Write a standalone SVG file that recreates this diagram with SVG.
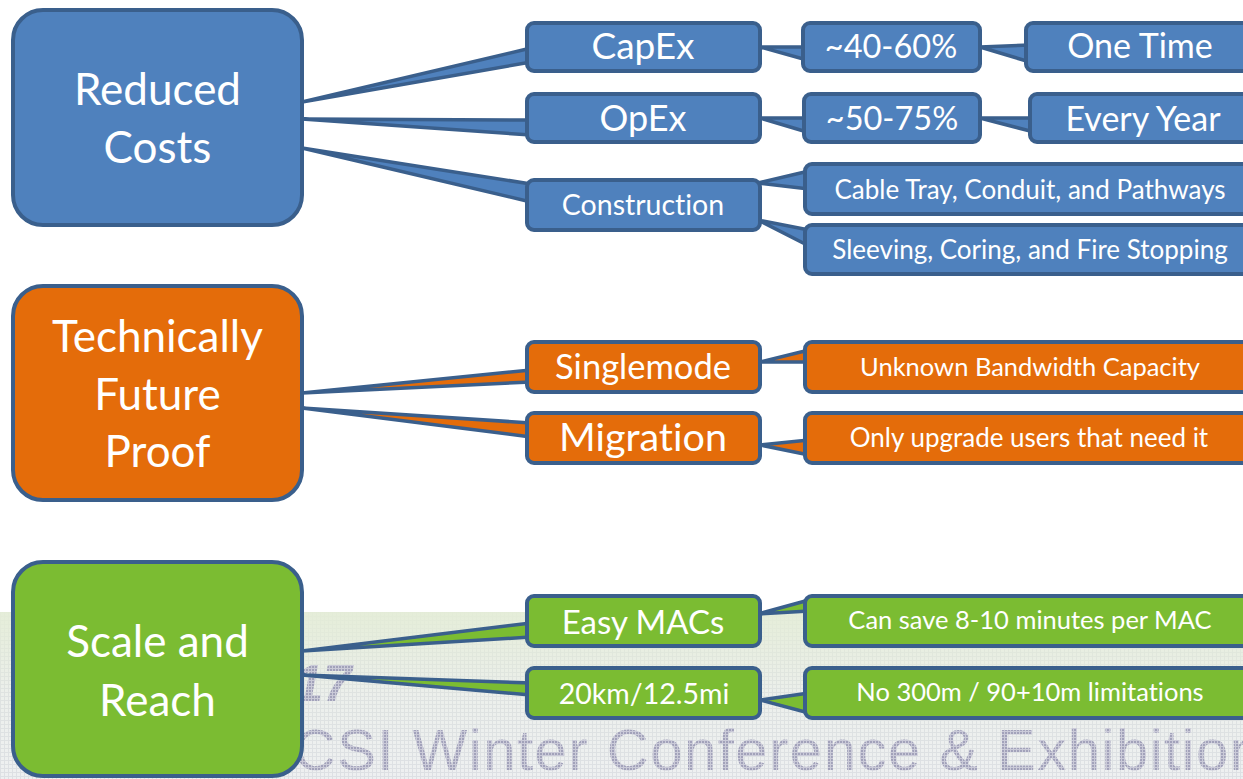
<svg xmlns="http://www.w3.org/2000/svg" width="1243" height="779" viewBox="0 0 1243 779">
<style>
.blue{fill:#4F81BD}
.orange{fill:#E46C0A}
.green{fill:#7BBC32}
.box{stroke:#3A5F8C;stroke-width:4}
.wedge{stroke:#3A5F8C;stroke-width:3.5;stroke-linejoin:round}
text{font-family:Lato,"Liberation Sans",sans-serif;fill:#FFFFFF;text-anchor:middle;font-variant-ligatures:none}
.wm{font-family:"Liberation Sans",Arial,sans-serif;fill:url(#dots);text-anchor:start}
</style>
<defs>
<pattern id="grid" width="4" height="4" patternUnits="userSpaceOnUse">
<rect width="4" height="4" fill="#EEF0F1"/>
<path d="M0 0.5H4M0.5 0V4" stroke="#DDE0E4" stroke-width="1"/>
</pattern>
<pattern id="dots" width="3" height="3" patternUnits="userSpaceOnUse">
<rect width="3" height="3" fill="#CACAD8"/>
<rect width="2" height="2" fill="#A2A2BA"/>
</pattern>
<linearGradient id="tint" x1="0" y1="0" x2="0" y2="1">
<stop offset="0" stop-color="#E4EDD6" stop-opacity="0.9"/>
<stop offset="0.5" stop-color="#E4EDD6" stop-opacity="0.2"/>
<stop offset="1" stop-color="#E4EDD6" stop-opacity="0"/>
</linearGradient>
</defs>
<rect width="1243" height="779" fill="#FFFFFF"/>
<g id="watermark">
<rect x="0" y="612" width="1243" height="167" fill="url(#grid)"/>
<rect x="0" y="612" width="1243" height="167" fill="url(#tint)"/>
<text class="wm" x="352" y="701" font-size="52" font-weight="bold" font-style="italic" style="text-anchor:end">2017</text>
<text class="wm" x="236" y="770" font-size="58" letter-spacing="1.5">BICSI Winter Conference &amp; Exhibition</text>
</g>
<g id="connectors">
<polygon class="wedge blue" points="302,102 531,48 531,62"/>
<polygon class="wedge blue" points="302,119 531,120 531,135"/>
<polygon class="wedge blue" points="302,148 531,184 531,202"/>
<polygon class="wedge blue" points="760,47 807,47 807,60"/>
<polygon class="wedge blue" points="980,47 1030,45 1030,62"/>
<polygon class="wedge blue" points="760,118 807,118 807,132"/>
<polygon class="wedge blue" points="980,118 1034,118 1034,132"/>
<polygon class="wedge blue" points="758,183 809,171 809,189"/>
<polygon class="wedge blue" points="758,220 809,230 809,246"/>
<polygon class="wedge orange" points="302,393 531,370 531,382"/>
<polygon class="wedge orange" points="302,408 531,423 531,437"/>
<polygon class="wedge orange" points="760,362 809,350 809,362"/>
<polygon class="wedge orange" points="760,445 809,440 809,455"/>
<polygon class="wedge green" points="302,651 531,623 531,637"/>
<polygon class="wedge green" points="302,675 531,683 531,695"/>
<polygon class="wedge green" points="758,614 809,600 809,611"/>
<polygon class="wedge green" points="760,700 809,693 809,713"/>
</g>
<g id="reduced-costs"><rect class="box blue" x="13" y="10" width="289" height="215" rx="30"/><text x="157.5" y="105" font-size="44">Reduced</text><text x="157.5" y="163" font-size="44">Costs</text></g>
<g id="technically-future-proof"><rect class="box orange" x="13" y="286" width="289" height="214" rx="30"/><text x="157.5" y="352" font-size="44">Technically</text><text x="157.5" y="410" font-size="44">Future</text><text x="157.5" y="467" font-size="44">Proof</text></g>
<g id="scale-and-reach"><rect class="box green" x="13" y="562" width="289" height="214" rx="30"/><text x="157.5" y="657" font-size="44">Scale and</text><text x="157.5" y="716" font-size="44">Reach</text></g>
<g id="capex"><rect class="box blue" x="527" y="23" width="233" height="48" rx="7"/><text x="643" y="59" font-size="37">CapEx</text></g>
<g id="opex"><rect class="box blue" x="527" y="94" width="233" height="48" rx="7"/><text x="643" y="131" font-size="36">OpEx</text></g>
<g id="construction"><rect class="box blue" x="527" y="180" width="233" height="50" rx="7"/><text x="643" y="215" font-size="28.5">Construction</text></g>
<g id="capex-pct"><rect class="box blue" x="803" y="23" width="177" height="48" rx="7"/><text x="891" y="58" font-size="32.5">~40-60%</text></g>
<g id="opex-pct"><rect class="box blue" x="804" y="94" width="176" height="48" rx="7"/><text x="892" y="130" font-size="32.5">~50-75%</text></g>
<g id="one-time"><rect class="box blue" x="1026" y="23" width="235" height="48" rx="7"/><text x="1140" y="58" font-size="34">One Time</text></g>
<g id="every-year"><rect class="box blue" x="1030" y="94" width="235" height="48" rx="7"/><text x="1143" y="131" font-size="34">Every Year</text></g>
<g id="cable-tray"><rect class="box blue" x="805" y="164" width="450" height="50" rx="7"/><text x="1030" y="199" font-size="26">Cable Tray, Conduit, and Pathways</text></g>
<g id="sleeving"><rect class="box blue" x="805" y="225" width="450" height="49" rx="7"/><text x="1030" y="259" font-size="26">Sleeving, Coring, and Fire Stopping</text></g>
<g id="singlemode"><rect class="box orange" x="527" y="342" width="233" height="50" rx="7"/><text x="643" y="379" font-size="34.5">Singlemode</text></g>
<g id="migration"><rect class="box orange" x="527" y="413" width="233" height="50" rx="7"/><text x="643" y="451" font-size="39.5">Migration</text></g>
<g id="unknown-bandwidth"><rect class="box orange" x="805" y="342" width="450" height="50" rx="7"/><text x="1030" y="376" font-size="25.5">Unknown Bandwidth Capacity</text></g>
<g id="only-upgrade"><rect class="box orange" x="805" y="413" width="450" height="50" rx="7"/><text x="1029" y="447" font-size="26">Only upgrade users that need it</text></g>
<g id="easy-macs"><rect class="box green" x="527" y="596" width="233" height="50" rx="7"/><text x="643" y="634" font-size="33">Easy MACs</text></g>
<g id="reach-20km"><rect class="box green" x="527" y="668" width="233" height="50" rx="7"/><text x="644" y="704" font-size="28.5">20km/12.5mi</text></g>
<g id="save-minutes"><rect class="box green" x="805" y="596" width="450" height="50" rx="7"/><text x="1030" y="629" font-size="25.5">Can save 8-10 minutes per MAC</text></g>
<g id="no-limit"><rect class="box green" x="805" y="668" width="450" height="50" rx="7"/><text x="1030" y="701" font-size="25.5">No 300m / 90+10m limitations</text></g>
</svg>
